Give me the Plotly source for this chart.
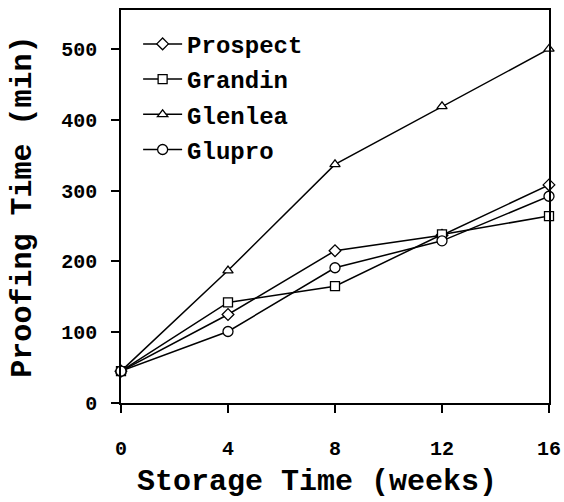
import plotly.graph_objects as go

weeks = [0, 4, 8, 12, 16]
prospect = [45, 125, 215, 237, 308]
grandin = [45, 142, 165, 238, 264]
glenlea = [45, 187, 337, 419, 500]
glupro = [45, 101, 191, 229, 292]

series = [
    ("Prospect", prospect, "diamond", 9),
    ("Grandin", grandin, "square", 9),
    ("Glenlea", glenlea, "triangle-up", 9),
    ("Glupro", glupro, "circle", 10),
]

FONT = "Liberation Mono, Courier New, monospace"

fig = go.Figure()
for i, (name, vals, sym, sz) in enumerate(series):
    fig.add_trace(go.Scatter(
        x=weeks, y=vals, name=name, mode="lines+markers",
        legendgroup=str(i),
        line=dict(color="black", width=1.5),
        marker=dict(symbol=sym, size=sz, color="white",
                    line=dict(color="black", width=1.3)),
        cliponaxis=False,
    ))

fig.update_layout(
    width=564, height=502,
    margin=dict(l=121, r=15, t=10, b=99, autoexpand=False),
    paper_bgcolor="white", plot_bgcolor="white",
    font=dict(family=FONT, color="black", size=20, weight="bold"),
    legend=dict(x=0.04, y=0.97, xanchor="left", yanchor="top",
                bgcolor="rgba(0,0,0,0)", traceorder="grouped",
                tracegroupgap=1, itemwidth=39,
                font=dict(family=FONT, size=24, weight="bold")),
    showlegend=True,
    annotations=[
        dict(text="Storage Time (weeks)", xref="paper", yref="paper",
             x=0.458, y=-0.201, xanchor="center", yanchor="middle",
             showarrow=False, font=dict(family=FONT, size=30, weight="bold")),
        dict(text="Proofing Time (min)", xref="paper", yref="paper",
             x=-0.231, y=0.5, xanchor="center", yanchor="middle",
             textangle=-90,
             showarrow=False, font=dict(family=FONT, size=30, weight="bold")),
    ],
)
fig.update_xaxes(
    range=[0, 16], tickvals=[0, 4, 8, 12, 16],
    showgrid=False, zeroline=False, automargin=False,
    showline=True, linecolor="black", linewidth=1.5, mirror=True,
    ticks="outside", ticklen=8, tickwidth=1.5, tickcolor="black",
    ticklabelstandoff=18,
    tickfont=dict(size=20),
)
fig.update_yaxes(
    range=[0, 555], tickvals=[0, 100, 200, 300, 400, 500],
    showgrid=False, zeroline=False, automargin=False,
    showline=True, linecolor="black", linewidth=1.5, mirror=True,
    ticks="outside", ticklen=8, tickwidth=1.5, tickcolor="black",
    ticklabelstandoff=10,
    tickfont=dict(size=20),
)

fig.write_html("out.html", config={"displayModeBar": False},
               post_script="document.body.style.margin='0';")
